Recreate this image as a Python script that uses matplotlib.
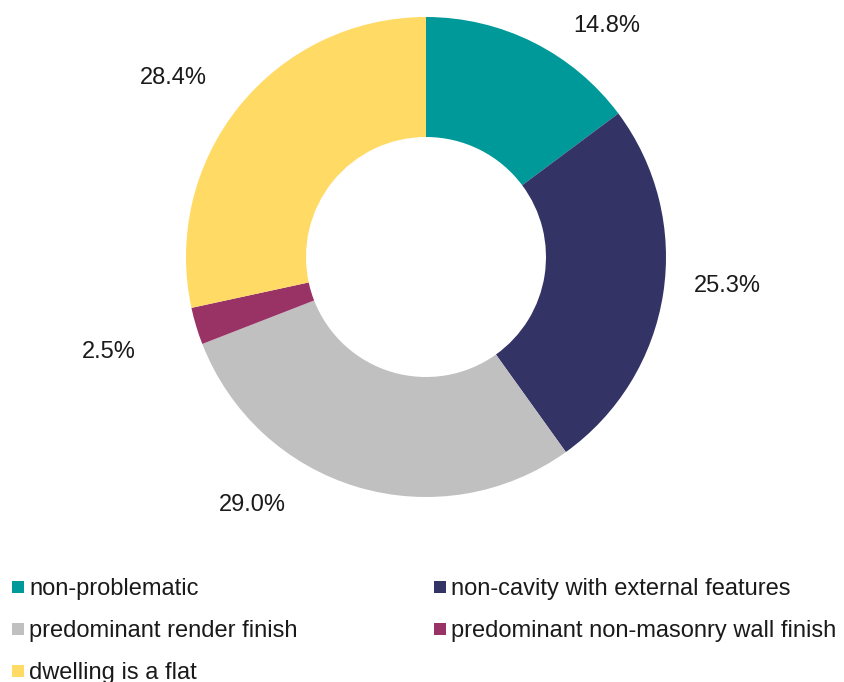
import matplotlib
matplotlib.use("Agg")
import matplotlib.pyplot as plt
from matplotlib.patches import Rectangle
import numpy as np

categories = ["non-problematic", "non-cavity with external features",
              "predominant render finish", "predominant non-masonry wall finish",
              "dwelling is a flat"]
values = [14.8, 25.3, 29.0, 2.5, 28.4]
colors = ["#009999", "#333366", "#C0C0C0", "#993366", "#FFDA65"]

# label placement (radial distance, angular nudge in degrees) - layout only
label_r = [1.22, 1.26, 1.26, 1.38, 1.29]
label_nudge = [-11.4, 3.3, -18.4, 0.0, 3.5]

plt.rcParams['font.family'] = ['Liberation Sans', 'DejaVu Sans']
FS = 17

W, H = 844, 682
fig = plt.figure(figsize=(W / 100, H / 100), dpi=100)
R = 240.0
cx, cy = 426.0, 257.0
span = 1.5
size = 2 * span * R
ax = fig.add_axes([(cx - size / 2) / W, (H - cy - size / 2) / H, size / W, size / H])

wedges, _ = ax.pie(values, colors=colors, startangle=90, counterclock=False,
                   radius=1.0, wedgeprops=dict(width=0.5, linewidth=0),
                   normalize=True)
ax.set_xlim(-span, span)
ax.set_ylim(-span, span)
ax.set_aspect('equal')
ax.axis('off')

for w, v, r, dn in zip(wedges, values, label_r, label_nudge):
    mid = (w.theta1 + w.theta2) / 2 + dn
    x = r * np.cos(np.radians(mid))
    y = r * np.sin(np.radians(mid))
    ax.text(x, y, f"{v:.1f}%", ha='center', va='center', fontsize=FS, color='#1a1a1a')

# legend laid out row-wise in two columns
col_x = [12, 434]
row_y = [587, 629, 671]
sq = 12
for i, (lab, col) in enumerate(zip(categories, colors)):
    r_i, c_i = divmod(i, 2)
    x0 = col_x[c_i]
    y0 = row_y[r_i]
    fig.patches.append(Rectangle((x0 / W, (H - y0 - sq / 2) / H), sq / W, sq / H,
                                 transform=fig.transFigure, facecolor=col,
                                 edgecolor='none'))
    fig.text((x0 + sq + 5) / W, (H - y0) / H, lab, ha='left', va='center_baseline',
             fontsize=FS, color='#1a1a1a')

fig.savefig("out.png", dpi=100)
